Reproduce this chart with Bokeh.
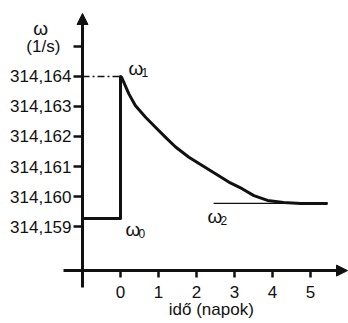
from bokeh.plotting import figure
from bokeh.models import Range1d, Arrow, NormalHead
from bokeh.core.properties import value
from bokeh.embed import file_html
from bokeh.resources import INLINE

# ---- data ----
omega0 = 314.159265          # level before the step
omega1 = 314.164             # peak just after the step
omega2 = 314.15977           # final level
t_before = [-1.0, 0.0]
t_decay = [0.0, 0.03, 0.22, 0.39, 0.66, 0.92, 1.18, 1.45, 1.80, 2.15, 2.50,
           2.85, 3.20, 3.51, 3.87, 4.29, 4.74, 5.45]
omega_decay = [314.16400, 314.16397, 314.16342, 314.16303, 314.16264, 314.16231,
               314.16198, 314.16165, 314.16131, 314.16103, 314.16076, 314.16048,
               314.16026, 314.16003, 314.15987, 314.15980, 314.15977, 314.15977]
omega2_span = [2.45, 5.45]

y_ticks = [314.159, 314.160, 314.161, 314.162, 314.163, 314.164, 314.165]
y_tick_labels = ["314,159", "314,160", "314,161", "314,162", "314,163", "314,164", ""]
x_ticks = [0, 1, 2, 3, 4, 5]
x_tick_labels = ["0", "1", "2", "3", "4", "5"]
x_title = "idő (napok)"
y_title_sym = "ω"
y_title_unit = "(1/s)"
point_syms = ["ω", "ω", "ω"]
point_subs = ["1", "0", "2"]

# ---- layout ----
W, H = 348, 323
X0, X1 = -3.1579, 6.0
Y0, Y1 = 314.1557667, 314.1665333
px_x = (X1 - X0) / W
px_y = (Y1 - Y0) / H
Y_AXIS_AT = -1.0
X_AXIS_AT = 314.15753
FONT = value("Liberation Sans")
ink = "#111111"

p = figure(width=W, height=H, x_range=Range1d(X0, X1), y_range=Range1d(Y0, Y1),
           output_backend="svg", toolbar_location=None,
           x_axis_location=None, y_axis_location=None, min_border=0)
p.outline_line_color = None
p.xgrid.visible = False
p.ygrid.visible = False
p.background_fill_color = "white"

# axes with arrows
p.add_layout(Arrow(x_start=Y_AXIS_AT - 0.5, y_start=X_AXIS_AT,
                   x_end=X1 - 1 * px_x, y_end=X_AXIS_AT,
                   line_width=3, line_color=ink,
                   end=NormalHead(size=11, fill_color=ink, line_color=ink)))
p.add_layout(Arrow(x_start=Y_AXIS_AT, y_start=X_AXIS_AT - 17 * px_y,
                   x_end=Y_AXIS_AT, y_end=Y1 - 13 * px_y,
                   line_width=3, line_color=ink,
                   end=NormalHead(size=11, fill_color=ink, line_color=ink)))

# y ticks and labels
n = len(y_ticks)
p.segment(x0=[Y_AXIS_AT - 9 * px_x] * n, x1=[Y_AXIS_AT] * n,
          y0=y_ticks, y1=y_ticks, line_width=2.5, line_color=ink)
p.text(x=[Y_AXIS_AT - 11 * px_x] * n, y=y_ticks, text=y_tick_labels,
       text_font=FONT, text_font_size="17px", text_align="right",
       text_baseline="middle", text_color=ink)

# x ticks and labels
xt = [Y_AXIS_AT] + x_ticks
p.segment(x0=xt, x1=xt, y0=[X_AXIS_AT] * len(xt),
          y1=[X_AXIS_AT - 7 * px_y] * len(xt), line_width=2.5, line_color=ink)
p.text(x=x_ticks, y=[X_AXIS_AT - 21 * px_y] * len(x_ticks), text=x_tick_labels,
       text_font=FONT, text_font_size="17px", text_align="center",
       text_baseline="middle", text_color=ink)

# axis titles
p.text(x=[2.39], y=[X_AXIS_AT - 39 * px_y], text=[x_title],
       text_font=FONT, text_font_size="17px", text_align="center",
       text_baseline="middle", text_color=ink)
p.text(x=[-2.1], y=[314.165 + 18 * px_y], text=[y_title_sym],
       text_font=FONT, text_font_size="19px", text_align="center",
       text_baseline="middle", text_color=ink)
p.text(x=[-2.03], y=[314.165], text=[y_title_unit],
       text_font=FONT, text_font_size="17px", text_align="center",
       text_baseline="middle", text_color=ink)

# dash-dot guide to the peak
p.line(x=[Y_AXIS_AT, 0.0], y=[omega1, omega1], line_width=1.3,
       line_dash="7 3 2 3", line_color=ink)

# final-level line
p.line(x=omega2_span, y=[omega2, omega2], line_width=1.2, line_color=ink)

# main curve: flat, step up, decay
main_t = t_before + t_decay
main_w = [omega0, omega0] + omega_decay
p.line(x=main_t, y=main_w, line_width=3, line_color=ink, line_join="round")

# point labels (omega with subscript)
lx = [0.21, 0.13, 2.29]
ly = [omega1 + 8 * px_y, omega0 - 11 * px_y, omega2 - 13 * px_y]
p.text(x=lx, y=ly, text=point_syms, text_font=FONT, text_font_size="19px",
       text_align="left", text_baseline="middle", text_color=ink)
p.text(x=[v + 13 * px_x for v in lx], y=[v - 4 * px_y for v in ly], text=point_subs,
       text_font=FONT, text_font_size="12px", text_align="left",
       text_baseline="middle", text_color=ink)

open("out.html", "w").write(file_html(p, INLINE))
